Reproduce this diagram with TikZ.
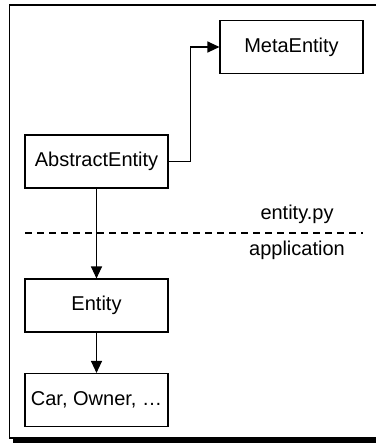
\documentclass[tikz,border=0pt]{standalone}
\usepackage{fontspec}
\setmainfont{Liberation Sans}
\usetikzlibrary{arrows.meta,positioning}

\begin{document}
\begin{tikzpicture}[x=1pt,y=-1pt,>={Triangle[length=12pt,width=11pt]},
    box/.style={draw,line width=1.1pt,minimum width=143pt,minimum height=53pt,
      font=\fontsize{20}{22}\selectfont},
    lbl/.style={font=\fontsize{20}{22}\selectfont}]
    \useasboundingbox (0,0) rectangle (376,445);
    % frame
    \draw[line width=1.2pt] (376,5) -- (9.5,5) -- (9.5,438) -- (376,438);
    \fill (13,438.5) rectangle (376,443);
    % boxes
    \node[box] (meta) at (291.5,47) {MetaEntity};
    \node[box] (abstract) at (96.5,161.5) {AbstractEntity};
    \node[box] (entity) at (96.5,305.5) {Entity};
    \node[box] (cars) at (96.5,400) {Car, Owner, \dots};
    % module boundary
    \coordinate (sepl) at (25,233);
    \coordinate (sepr) at (363,233);
    \draw[line width=1.1pt,dash pattern=on 7pt off 5pt] (sepl) -- (sepr);
    \node[lbl] (py) at (297,214) {entity.py};
    \node[lbl] (app) at (297,250) {application};
    % arrows
    \draw[->,line width=1.1pt] (abstract.east) -- ++(22,0) |- (meta.west);
    \draw[->,line width=1.1pt] (abstract.south) -- (entity.north);
    \draw[->,line width=1.1pt] (entity.south) -- (cars.north);
  \end{tikzpicture}
\end{document}
